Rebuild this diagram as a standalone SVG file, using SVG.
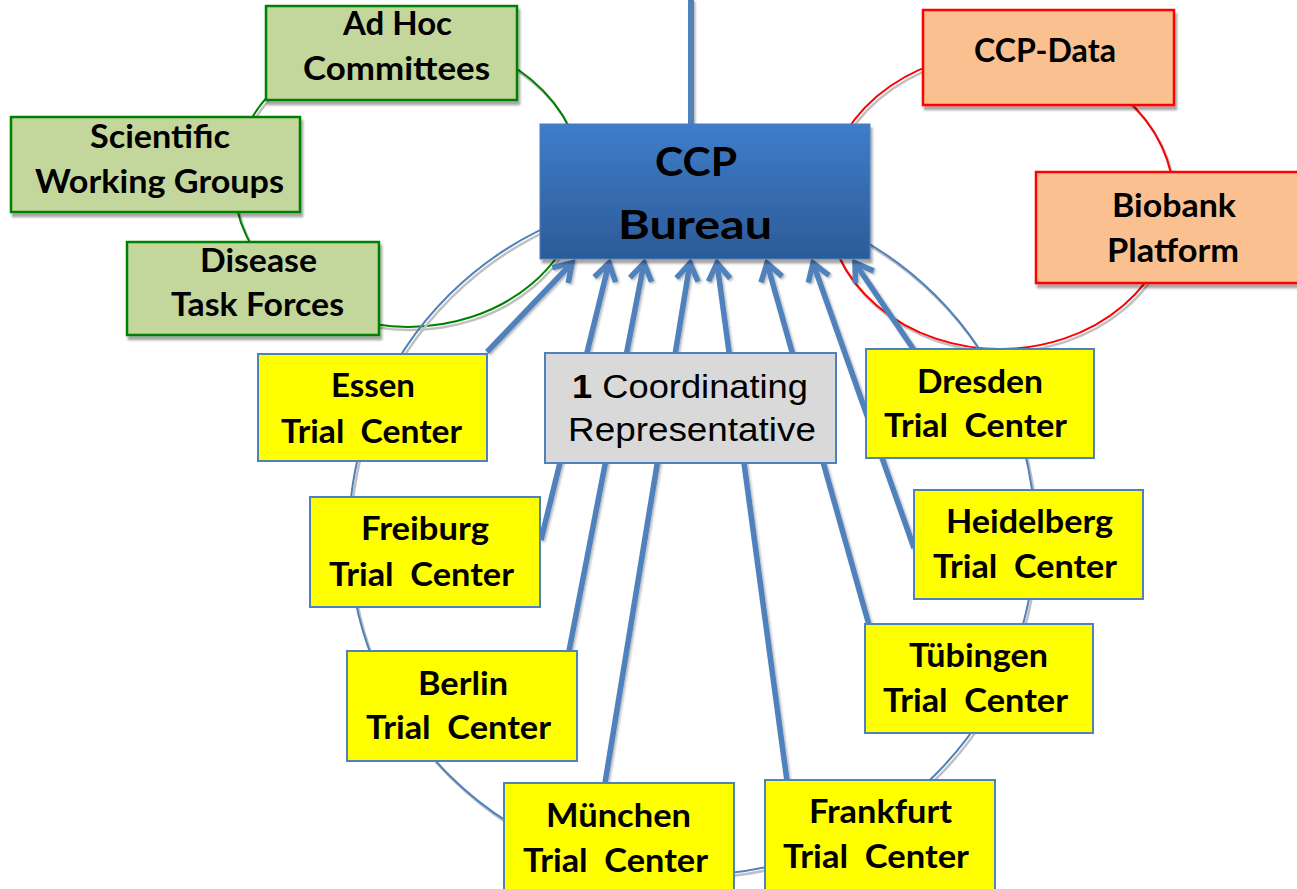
<svg xmlns="http://www.w3.org/2000/svg" width="1297" height="889" viewBox="0 0 1297 889">
<defs>
<style>
.t{font-family:Lato,"Open Sans","Liberation Sans",sans-serif;font-weight:bold;font-size:32px;fill:#000}
.big{font-family:Lato,"Open Sans","Liberation Sans",sans-serif;font-weight:bold;font-size:41px;fill:#000}
.ar{font-family:"Liberation Sans",Arial,sans-serif;font-size:33px;fill:#000}
.yb{fill:#ffff00;stroke:#4f81bd;stroke-width:2}
.gb{fill:#c3d69b;stroke:#008000;stroke-width:2.5}
.rb{fill:#fac090;stroke:#ff0000;stroke-width:2.5}
.cn{fill:none;stroke:#4f81bd;stroke-width:5.5;marker-end:url(#arr)}
.ring{fill:none;stroke-width:2}
.sh{fill:none;stroke:#c0c0c0;stroke-width:2.5}
</style>
<linearGradient id="bg" x1="0" y1="0" x2="0" y2="1">
<stop offset="0" stop-color="#3f7dca"/>
<stop offset="1" stop-color="#2c5b97"/>
</linearGradient>
<filter id="ds" x="-10%" y="-10%" width="130%" height="140%">
<feDropShadow dx="2" dy="4" stdDeviation="1" flood-color="#000" flood-opacity="0.35"/>
</filter>
<filter id="ls" x="-20%" y="-20%" width="140%" height="140%">
<feDropShadow dx="1.5" dy="1.5" stdDeviation="0.8" flood-color="#000" flood-opacity="0.3"/>
</filter>
<marker id="arr" markerUnits="userSpaceOnUse" viewBox="-30 -20 40 40" refX="0" refY="0" markerWidth="40" markerHeight="40" orient="auto">
<path d="M-17,-11 L0,0 L-17,11" fill="none" stroke="#4f81bd" stroke-width="5.5"/>
</marker>
</defs>
<rect width="1297" height="889" fill="#fff"/>

<g id="rings">
<ellipse class="sh" cx="410" cy="185" rx="174" ry="145"/>
<ellipse class="ring" cx="408" cy="182" rx="174" ry="145" stroke="#008000"/>
<ellipse class="sh" cx="1002" cy="204" rx="174" ry="148"/>
<ellipse class="ring" cx="1000" cy="201" rx="174" ry="148" stroke="#ff0000"/>
<ellipse class="sh" cx="694" cy="538" rx="343" ry="340"/>
<ellipse class="ring" cx="692" cy="535" rx="343" ry="340" stroke="#4f81bd"/>
</g>

<g id="connectors" filter="url(#ls)">
<line x1="691" y1="0" x2="691" y2="124" stroke="#4f81bd" stroke-width="6"/>
<line class="cn" x1="487" y1="352" x2="572" y2="263"/>
<line class="cn" x1="541" y1="540" x2="609" y2="263"/>
<line class="cn" x1="569" y1="651" x2="644" y2="263"/>
<line class="cn" x1="605" y1="783" x2="690" y2="263"/>
<line class="cn" x1="787" y1="781" x2="717" y2="263"/>
<line class="cn" x1="869" y1="625" x2="767" y2="263"/>
<line class="cn" x1="914" y1="548" x2="813" y2="263"/>
<line class="cn" x1="914" y1="350" x2="855" y2="263"/>
</g>

<g id="adhoc">
<rect class="gb" x="266" y="6" width="251" height="94" filter="url(#ds)"/>
<text class="t" x="343" y="35" textLength="109" lengthAdjust="spacingAndGlyphs">Ad Hoc</text>
<text class="t" x="303" y="80" textLength="187" lengthAdjust="spacingAndGlyphs">Committees</text>
</g>
<g id="scientific">
<rect class="gb" x="11" y="117" width="289" height="95" filter="url(#ds)"/>
<text class="t" x="90" y="148" textLength="140" lengthAdjust="spacingAndGlyphs">Scientific</text>
<text class="t" x="35" y="193" textLength="249" lengthAdjust="spacingAndGlyphs">Working Groups</text>
</g>
<g id="disease">
<rect class="gb" x="127" y="242" width="252" height="93" filter="url(#ds)"/>
<text class="t" x="200" y="272" textLength="117" lengthAdjust="spacingAndGlyphs">Disease</text>
<text class="t" x="171" y="316" textLength="173" lengthAdjust="spacingAndGlyphs">Task Forces</text>
</g>

<g id="bureau">
<rect x="540" y="124" width="330" height="135" fill="url(#bg)" stroke="#4a7ec0" stroke-width="1" filter="url(#ds)"/>
<text class="big" x="655" y="176" textLength="82" lengthAdjust="spacingAndGlyphs">CCP</text>
<text class="big" x="618" y="239" textLength="154" lengthAdjust="spacingAndGlyphs">Bureau</text>
</g>

<g id="ccpdata">
<rect class="rb" x="923" y="10" width="251" height="95" filter="url(#ds)"/>
<text class="t" x="974" y="62" textLength="142" lengthAdjust="spacingAndGlyphs">CCP-Data</text>
</g>
<g id="biobank">
<rect class="rb" x="1036" y="172" width="270" height="111" filter="url(#ds)"/>
<text class="t" x="1112" y="217" textLength="124" lengthAdjust="spacingAndGlyphs">Biobank</text>
<text class="t" x="1107" y="262" textLength="132" lengthAdjust="spacingAndGlyphs">Platform</text>
</g>

<g id="coord">
<rect x="545" y="353" width="291" height="110" fill="#d9d9d9" stroke="#4f81bd" stroke-width="2"/>
<text class="ar" x="572" y="398" textLength="236" lengthAdjust="spacingAndGlyphs"><tspan font-weight="bold">1</tspan> Coordinating</text>
<text class="ar" x="568" y="441" textLength="248" lengthAdjust="spacingAndGlyphs">Representative</text>
</g>

<g id="essen">
<rect class="yb" x="258" y="354" width="229" height="107"/>
<text class="t" x="331" y="397" textLength="84" lengthAdjust="spacingAndGlyphs">Essen</text>
<text class="t" x="281" y="443" textLength="181" lengthAdjust="spacingAndGlyphs" xml:space="preserve">Trial  Center</text>
</g>
<g id="dresden">
<rect class="yb" x="866" y="349" width="228" height="109"/>
<text class="t" x="917" y="393" textLength="126" lengthAdjust="spacingAndGlyphs">Dresden</text>
<text class="t" x="884" y="437" textLength="183" lengthAdjust="spacingAndGlyphs" xml:space="preserve">Trial  Center</text>
</g>
<g id="freiburg">
<rect class="yb" x="310" y="497" width="230" height="110"/>
<text class="t" x="361" y="540" textLength="128" lengthAdjust="spacingAndGlyphs">Freiburg</text>
<text class="t" x="329" y="586" textLength="185" lengthAdjust="spacingAndGlyphs" xml:space="preserve">Trial  Center</text>
</g>
<g id="heidelberg">
<rect class="yb" x="914" y="490" width="229" height="109"/>
<text class="t" x="946" y="533" textLength="167" lengthAdjust="spacingAndGlyphs">Heidelberg</text>
<text class="t" x="933" y="578" textLength="184" lengthAdjust="spacingAndGlyphs" xml:space="preserve">Trial  Center</text>
</g>
<g id="berlin">
<rect class="yb" x="347" y="651" width="230" height="110"/>
<text class="t" x="418" y="695" textLength="90" lengthAdjust="spacingAndGlyphs">Berlin</text>
<text class="t" x="366" y="739" textLength="185" lengthAdjust="spacingAndGlyphs" xml:space="preserve">Trial  Center</text>
</g>
<g id="tuebingen">
<rect class="yb" x="865" y="624" width="228" height="109"/>
<text class="t" x="909" y="667" textLength="139" lengthAdjust="spacingAndGlyphs">Tübingen</text>
<text class="t" x="883" y="712" textLength="185" lengthAdjust="spacingAndGlyphs" xml:space="preserve">Trial  Center</text>
</g>
<g id="muenchen">
<rect class="yb" x="504" y="783" width="230" height="110"/>
<text class="t" x="546" y="827" textLength="145" lengthAdjust="spacingAndGlyphs">München</text>
<text class="t" x="523" y="872" textLength="185" lengthAdjust="spacingAndGlyphs" xml:space="preserve">Trial  Center</text>
</g>
<g id="frankfurt">
<rect class="yb" x="765" y="780" width="230" height="112"/>
<text class="t" x="809" y="823" textLength="143" lengthAdjust="spacingAndGlyphs">Frankfurt</text>
<text class="t" x="783" y="868" textLength="186" lengthAdjust="spacingAndGlyphs" xml:space="preserve">Trial  Center</text>
</g>
</svg>
